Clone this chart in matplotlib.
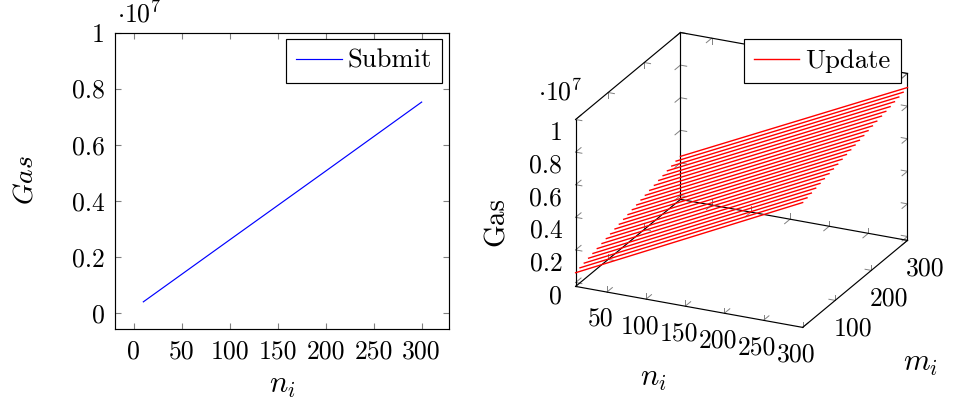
import matplotlib
matplotlib.use("Agg")
import matplotlib.pyplot as plt

plt.rcParams["font.family"] = "cmr10"
plt.rcParams["mathtext.fontset"] = "cm"
plt.rcParams["axes.unicode_minus"] = False
plt.rcParams["font.size"] = 18.5

W, H = 954, 405
GRAY = "#808080"
ZMIN = -0.024

# left chart, gas in units of 1e7
submit_n = [10, 100, 200, 300]
submit_gas = [0.04, 0.261, 0.506, 0.752]
left_xticks = [0, 50, 100, 150, 200, 250, 300]
left_yticks = [0, 0.2, 0.4, 0.6, 0.8, 1]
left_ylabels = ["0", "0.2", "0.4", "0.6", "0.8", "1"]

# right chart: one line per m value, from n=10 to n=300
update_n = [10, 300]
update_m = [10, 22, 34, 46, 58, 70, 83, 95, 107, 119, 131, 143, 155,
            167, 179, 191, 203, 215, 228, 240, 252, 264, 276, 288, 300]
update_gas_start = [0.060, 0.068, 0.075, 0.083, 0.090, 0.098, 0.105, 0.113, 0.120,
                    0.128, 0.135, 0.143, 0.150, 0.158, 0.165, 0.173, 0.180, 0.188,
                    0.195, 0.203, 0.210, 0.218, 0.225, 0.233, 0.240]
update_gas_end = [0.742, 0.749, 0.756, 0.764, 0.771, 0.778, 0.785, 0.792, 0.799,
                  0.807, 0.814, 0.821, 0.828, 0.835, 0.842, 0.850, 0.857, 0.864,
                  0.871, 0.878, 0.885, 0.893, 0.900, 0.907, 0.914]
n_ticks = [50, 100, 150, 200, 250, 300]
m_ticks = [100, 200, 300]
z_ticks = [0, 0.2, 0.4, 0.6, 0.8, 1]
z_labels = ["0", "0.2", "0.4", "0.6", "0.8", "1"]


def fx(px):
    return px / W


def fy(py):
    return 1 - py / H


fig = plt.figure(figsize=(W / 100, H / 100), dpi=100)
legend_style = dict(loc="upper right", bbox_transform=fig.transFigure, fancybox=False, framealpha=1,
                    edgecolor="black", borderaxespad=0, borderpad=0.38, handlelength=1.7,
                    handletextpad=0.22, fontsize=19.2)

# left
ax = fig.add_axes([fx(115.5), fy(328.5), 334 / W, 296 / H])
ax.plot(submit_n, submit_gas, color="#0000ff", lw=0.85, label="Submit")
ax.set_xlim(-19, 329)
ax.set_ylim(-0.055, 1)
ax.set_xticks(left_xticks)
ax.set_yticks(left_yticks)
ax.set_yticklabels(left_ylabels)
ax.tick_params(direction="in", top=True, right=True, length=4.4, width=0.8, color=GRAY, pad=8)
for s in ax.spines.values():
    s.set_linewidth(0.85)
ax.legend(bbox_to_anchor=(fx(442), fy(39)), **legend_style).get_frame().set_linewidth(0.85)
fig.text(fx(282), fy(386), r"$n_i$", ha="center", va="center", fontsize=22)
fig.text(fx(25), fy(180), r"$Gas$", ha="center", va="center", rotation=90, fontsize=20)
fig.text(fx(117), fy(14), r"$\cdot 10^7$", ha="left", va="center")

# right
S = 384.7
ax3 = fig.add_axes([fx(544), fy(377.5), S / W, S / H], projection="3d", proj_type="ortho",
                   computed_zorder=False)
ax3.patch.set_visible(False)
ax3.view_init(elev=22.77, azim=-65)
ax3.set_box_aspect((250.5, 248, 181))
ax3.set_xlim(10, 300, view_margin=0)
ax3.set_ylim(10, 300, view_margin=0)
ax3.set_zlim(ZMIN, 1, view_margin=0)
ax3.grid(False)
for axis in (ax3.xaxis, ax3.yaxis, ax3.zaxis):
    axis.set_pane_color((1, 1, 1, 0))
    axis.pane.set_edgecolor((1, 1, 1, 0))
    axis.line.set_color((0, 0, 0, 0))
ax3.tick_params(color=(0, 0, 0, 0))
ax3.set_xticks(n_ticks)
ax3.set_yticks(m_ticks)
ax3.set_zticks(z_ticks)
ax3.set_zticklabels(z_labels, ha="right")
ax3.zaxis.set_ticks_position("lower")
ax3.tick_params(axis="x", pad=0.6)
ax3.tick_params(axis="y", pad=3.5)
ax3.tick_params(axis="z", pad=-2.2)

# box edges
edges = [
    ([10, 300], [10, 10], [ZMIN, ZMIN]),
    ([300, 300], [10, 300], [ZMIN, ZMIN]),
    ([10, 300], [300, 300], [ZMIN, ZMIN]),
    ([10, 10], [10, 300], [ZMIN, ZMIN]),
    ([10, 10], [10, 10], [ZMIN, 1]),
    ([10, 10], [300, 300], [ZMIN, 1]),
    ([300, 300], [300, 300], [ZMIN, 1]),
    ([10, 10], [10, 300], [1, 1]),
    ([10, 300], [300, 300], [1, 1]),
]
for ex, ey, ez in edges:
    ax3.plot(ex, ey, ez, color="black", lw=0.85, clip_on=False, zorder=2)

# tick marks point into the box along both other directions
DN, DM, DZ = 8, 15, 0.035
tick_segs = []
for n in n_ticks:
    for m0, z0, dm, dz in [(10, ZMIN, DM, DZ), (300, ZMIN, -DM, DZ), (300, 1, -DM, -DZ)]:
        tick_segs.append(([n, n], [m0, m0 + dm], [z0, z0]))
        tick_segs.append(([n, n], [m0, m0], [z0, z0 + dz]))
for m in m_ticks:
    for n0, z0, dn, dz in [(10, ZMIN, DN, DZ), (300, ZMIN, -DN, DZ), (10, 1, DN, -DZ)]:
        tick_segs.append(([n0, n0 + dn], [m, m], [z0, z0]))
        tick_segs.append(([n0, n0], [m, m], [z0, z0 + dz]))
for z in z_ticks:
    for n0, m0, dn, dm in [(10, 10, DN, DM), (10, 300, DN, -DM), (300, 300, -DN, -DM)]:
        tick_segs.append(([n0, n0 + dn], [m0, m0], [z, z]))
        tick_segs.append(([n0, n0], [m0, m0 + dm], [z, z]))
for tx, ty, tz in tick_segs:
    ax3.plot(tx, ty, tz, color=GRAY, lw=0.7, clip_on=False, zorder=1)

for i in range(len(update_m)):
    ax3.plot(update_n, [update_m[i], update_m[i]], [update_gas_start[i], update_gas_end[i]],
             color="#ff0000", lw=1.0, clip_on=False, zorder=3,
             label="Update" if i == 0 else None)

ax3.legend(bbox_to_anchor=(fx(900.5), fy(39)), **legend_style).get_frame().set_linewidth(0.85)
fig.text(fx(653), fy(379), r"$n_i$", ha="center", va="center", fontsize=22)
fig.text(fx(921), fy(364), r"$m_i$", ha="center", va="center", fontsize=22)
fig.text(fx(497), fy(222), "Gas", ha="center", va="center", rotation=90, fontsize=21)
fig.text(fx(538), fy(92), r"$\cdot 10^7$", ha="left", va="center")

fig.savefig("out.png", dpi=100)
